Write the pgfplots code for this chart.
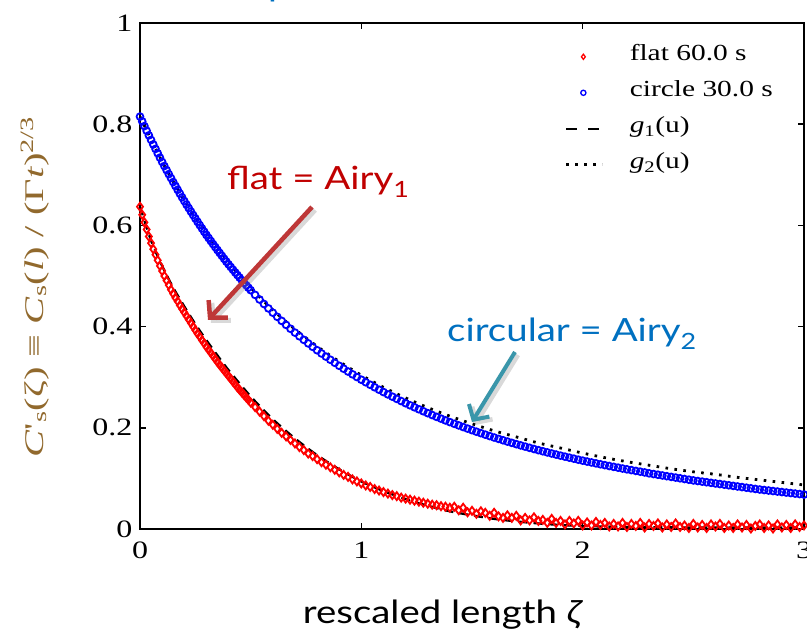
\documentclass[border=0pt]{standalone}
\usepackage{pgfplots}
\pgfplotsset{compat=1.18}
\usepackage{fontspec}
\setmainfont{Liberation Serif}
\newfontfamily\plotfont[FakeStretch=1.28]{Liberation Serif}
\newfontfamily\labfont[FakeStretch=1.5]{Liberation Serif}
\newfontfamily\annfont[FakeStretch=1.2]{Lato}
\usetikzlibrary{arrows.meta}
\definecolor{ylab}{RGB}{145,105,45}
\definecolor{annred}{RGB}{192,0,0}
\definecolor{arrred}{RGB}{190,55,55}
\definecolor{annblue}{RGB}{0,112,192}
\definecolor{arrteal}{RGB}{58,150,170}
\pgfplotsset{
  markleg/.style={legend image code/.code={\path (0pt,0pt) (34pt,0pt); \draw[##1, mark size=2.6pt, mark options={line width=1.3pt}] plot coordinates {(17pt,0pt)};}},
  dashleg/.style={legend image code/.code={\draw[##1, dash pattern=on 11pt off 11pt] (0pt,0pt) -- (34pt,0pt);}},
  dotleg/.style={legend image code/.code={\draw[##1] (0pt,0pt) -- (36pt,0pt);}},
}
\begin{document}
\begin{tikzpicture}[x=1pt,y=1pt]
\useasboundingbox (0,0) rectangle (807,637);
\begin{axis}[
  scale only axis, width=664pt, height=506pt,
  at={(140pt,108pt)}, anchor=south west,
  xmin=0, xmax=3, ymin=0, ymax=1,
  xtick={0,1,2,3}, ytick={0,0.2,0.4,0.6,0.8,1},
  tick align=inside, major tick length=6pt,
  axis line style={line width=2pt},
  tick style={line width=1.5pt, black},
  clip=false,
  /pgf/number format/assume math mode=true,
  tick label style={font=\plotfont\fontsize{25}{25}\selectfont},
  xticklabel style={yshift=-9pt},
  yticklabel style={xshift=-4pt},
  legend style={draw=none, fill=none, at={(0.640,0.949)}, anchor=north west,
    inner sep=0pt, outer sep=0pt, row sep=20pt, column sep=26pt,
    font=\plotfont\fontsize{23}{23}\selectfont,
    nodes={inner sep=0pt, text height=12pt, text depth=4pt}},
  legend cell align=left,
]
\addplot[only marks, mark=diamond, mark size=4pt, red, mark options={line width=1.8pt}, markleg]
coordinates {
(0.00,0.637)(0.01,0.621)(0.02,0.606)(0.03,0.592)(0.04,0.578)(0.05,0.565)(0.06,0.553)(0.07,0.542)(0.08,0.531)(0.09,0.520)
(0.10,0.510)(0.11,0.500)(0.12,0.491)(0.13,0.482)(0.14,0.473)(0.15,0.465)(0.16,0.457)(0.17,0.450)(0.18,0.442)(0.19,0.435)
(0.20,0.428)(0.21,0.421)(0.22,0.414)(0.23,0.407)(0.24,0.400)(0.25,0.393)(0.26,0.386)(0.27,0.380)(0.28,0.373)(0.29,0.367)
(0.30,0.360)(0.31,0.354)(0.32,0.348)(0.33,0.342)(0.34,0.336)(0.35,0.330)(0.36,0.324)(0.37,0.319)(0.38,0.313)(0.39,0.308)
(0.40,0.302)(0.41,0.297)(0.42,0.291)(0.43,0.286)(0.44,0.280)(0.45,0.275)(0.46,0.270)(0.47,0.265)(0.48,0.260)(0.49,0.255)
(0.50,0.250)(0.52,0.241)(0.54,0.232)(0.56,0.223)(0.58,0.214)(0.60,0.206)(0.62,0.198)(0.64,0.190)(0.66,0.183)(0.68,0.176)
(0.70,0.169)(0.72,0.162)(0.74,0.156)(0.76,0.149)(0.78,0.144)(0.80,0.138)(0.82,0.132)(0.84,0.127)(0.86,0.122)(0.88,0.117)
(0.90,0.112)(0.92,0.107)(0.94,0.103)(0.96,0.098)(0.98,0.094)(1.00,0.090)(1.02,0.086)(1.04,0.083)(1.06,0.079)(1.08,0.076)
(1.10,0.073)(1.12,0.070)(1.14,0.067)(1.16,0.065)(1.18,0.062)(1.20,0.060)(1.22,0.058)(1.24,0.056)(1.26,0.054)(1.28,0.052)
(1.30,0.050)(1.32,0.048)(1.34,0.047)(1.36,0.045)(1.38,0.044)(1.40,0.042)(1.42,0.044)(1.44,0.037)(1.46,0.042)(1.48,0.033)
(1.50,0.036)(1.52,0.030)(1.54,0.035)(1.56,0.032)(1.58,0.026)(1.60,0.032)(1.62,0.025)(1.64,0.022)(1.66,0.027)(1.68,0.022)
(1.70,0.026)(1.72,0.017)(1.74,0.022)(1.76,0.017)(1.78,0.023)(1.80,0.016)(1.82,0.018)(1.84,0.012)(1.86,0.020)(1.88,0.012)
(1.90,0.016)(1.92,0.009)(1.94,0.016)(1.96,0.011)(1.98,0.016)(2.00,0.007)(2.02,0.013)(2.04,0.007)(2.06,0.014)(2.08,0.008)
(2.10,0.012)(2.12,0.005)(2.14,0.010)(2.16,0.005)(2.18,0.012)(2.20,0.004)(2.22,0.010)(2.24,0.006)(2.26,0.012)(2.28,0.003)
(2.30,0.010)(2.32,0.006)(2.34,0.011)(2.36,0.003)(2.38,0.009)(2.40,0.004)(2.42,0.011)(2.44,0.004)(2.46,0.007)(2.48,0.002)
(2.50,0.010)(2.52,0.003)(2.54,0.008)(2.56,0.002)(2.58,0.009)(2.60,0.005)(2.62,0.010)(2.64,0.002)(2.66,0.007)(2.68,0.002)
(2.70,0.009)(2.72,0.003)(2.74,0.008)(2.76,0.001)(2.78,0.006)(2.80,0.009)(2.82,0.002)(2.84,0.007)(2.86,0.001)(2.88,0.009)
(2.90,0.003)(2.92,0.008)(2.94,0.002)(2.96,0.009)(2.98,0.004)(3.00,0.007)
};
\addlegendentry{flat 60.0 s}
\addplot[only marks, mark=o, mark size=3.4pt, blue, mark options={line width=1.8pt}, markleg]
coordinates {
(0.00,0.8150)(0.01,0.8056)(0.02,0.7962)(0.03,0.7870)(0.04,0.7779)(0.05,0.7689)(0.06,0.7600)(0.07,0.7512)(0.08,0.7425)(0.09,0.7339)
(0.10,0.7254)(0.11,0.7173)(0.12,0.7093)(0.13,0.7013)(0.14,0.6935)(0.15,0.6857)(0.16,0.6780)(0.17,0.6704)(0.18,0.6629)(0.19,0.6555)
(0.20,0.6482)(0.21,0.6412)(0.22,0.6342)(0.23,0.6273)(0.24,0.6205)(0.25,0.6138)(0.26,0.6071)(0.27,0.6005)(0.28,0.5940)(0.29,0.5876)
(0.30,0.5812)(0.31,0.5751)(0.32,0.5691)(0.33,0.5631)(0.34,0.5572)(0.35,0.5513)(0.36,0.5455)(0.37,0.5398)(0.38,0.5341)(0.39,0.5285)
(0.40,0.5230)(0.41,0.5177)(0.42,0.5124)(0.43,0.5071)(0.44,0.5019)(0.45,0.4968)(0.46,0.4917)(0.47,0.4867)(0.48,0.4818)(0.49,0.4769)
(0.50,0.4720)(0.52,0.4627)(0.54,0.4536)(0.56,0.4447)(0.58,0.4360)(0.60,0.4275)(0.62,0.4193)(0.64,0.4113)(0.66,0.4034)(0.68,0.3957)
(0.70,0.3881)(0.72,0.3809)(0.74,0.3738)(0.76,0.3668)(0.78,0.3600)(0.80,0.3533)(0.82,0.3469)(0.84,0.3407)(0.86,0.3345)(0.88,0.3285)
(0.90,0.3225)(0.92,0.3168)(0.94,0.3112)(0.96,0.3057)(0.98,0.3003)(1.00,0.2950)(1.02,0.2900)(1.04,0.2850)(1.06,0.2801)(1.08,0.2753)
(1.10,0.2706)(1.12,0.2660)(1.14,0.2616)(1.16,0.2572)(1.18,0.2528)(1.20,0.2486)(1.22,0.2445)(1.24,0.2405)(1.26,0.2366)(1.28,0.2327)
(1.30,0.2289)(1.32,0.2252)(1.34,0.2216)(1.36,0.2181)(1.38,0.2146)(1.40,0.2112)(1.42,0.2079)(1.44,0.2047)(1.46,0.2015)(1.48,0.1984)
(1.50,0.1953)(1.52,0.1923)(1.54,0.1894)(1.56,0.1865)(1.58,0.1836)(1.60,0.1808)(1.62,0.1781)(1.64,0.1754)(1.66,0.1728)(1.68,0.1702)
(1.70,0.1677)(1.72,0.1652)(1.74,0.1628)(1.76,0.1604)(1.78,0.1581)(1.80,0.1558)(1.82,0.1536)(1.84,0.1514)(1.86,0.1492)(1.88,0.1471)
(1.90,0.1450)(1.92,0.1430)(1.94,0.1410)(1.96,0.1390)(1.98,0.1370)(2.00,0.1351)(2.02,0.1333)(2.04,0.1315)(2.06,0.1297)(2.08,0.1279)
(2.10,0.1262)(2.12,0.1245)(2.14,0.1228)(2.16,0.1212)(2.18,0.1195)(2.20,0.1179)(2.22,0.1164)(2.24,0.1148)(2.26,0.1133)(2.28,0.1118)
(2.30,0.1100)(2.32,0.1086)(2.34,0.1072)(2.36,0.1058)(2.38,0.1044)(2.40,0.1030)(2.42,0.1016)(2.44,0.1002)(2.46,0.0988)(2.48,0.0974)
(2.50,0.0960)(2.52,0.0948)(2.54,0.0936)(2.56,0.0924)(2.58,0.0912)(2.60,0.0900)(2.62,0.0888)(2.64,0.0876)(2.66,0.0864)(2.68,0.0852)
(2.70,0.0840)(2.72,0.0828)(2.74,0.0816)(2.76,0.0804)(2.78,0.0792)(2.80,0.0780)(2.82,0.0770)(2.84,0.0760)(2.86,0.0750)(2.88,0.0740)
(2.90,0.0730)(2.92,0.0720)(2.94,0.0710)(2.96,0.0700)(2.98,0.0690)(3.00,0.0680)
};
\addlegendentry{circle 30.0 s}
\addplot[black, line width=2.3pt, dash pattern=on 9pt off 6pt, smooth, dashleg]
coordinates {
(0.00,0.637)(0.05,0.570)(0.10,0.520)(0.15,0.477)(0.20,0.440)(0.25,0.405)(0.30,0.373)(0.35,0.343)(0.40,0.314)
(0.50,0.262)(0.60,0.217)(0.70,0.179)(0.80,0.146)(0.90,0.118)(1.00,0.094)(1.10,0.075)(1.20,0.059)(1.30,0.046)
(1.40,0.035)(1.50,0.027)(1.60,0.020)(1.70,0.015)(1.80,0.011)(1.90,0.008)(2.00,0.006)(2.20,0.004)(2.50,0.003)(3.00,0.003)
};
\addlegendentry{\textit{g}\textsubscript{1}(u)}
\addplot[black, line width=2.8pt, dash pattern=on 2.6pt off 6.4pt, smooth, dotleg]
coordinates {
(0.0,0.815)(0.1,0.726)(0.2,0.650)(0.3,0.584)(0.4,0.527)(0.5,0.477)(0.6,0.433)(0.7,0.395)(0.8,0.361)(0.9,0.331)
(1.0,0.304)(1.1,0.280)(1.2,0.259)(1.3,0.240)(1.4,0.223)(1.5,0.208)(1.6,0.194)(1.7,0.182)(1.8,0.170)(1.9,0.160)
(2.0,0.150)(2.1,0.141)(2.2,0.133)(2.3,0.126)(2.4,0.119)(2.5,0.113)(2.6,0.108)(2.7,0.102)(2.8,0.097)(2.9,0.092)(3.0,0.087)
};
\addlegendentry{\textit{g}\textsubscript{2}(u)}
\end{axis}
% y label
\node[rotate=90, anchor=base, inner sep=0pt, text=ylab, font=\labfont\fontsize{27}{27}\selectfont] at (43,350)
  {\textit{C}'\textsubscript{s}(ζ) ≡ \textit{C}\textsubscript{s}(\textit{l}) / (Γ\textit{t})\textsuperscript{2/3}};
% x label
\node[anchor=base, inner sep=0pt, font=\annfont\fontsize{32}{32}\selectfont] at (443,13)
  {rescaled length \textit{ζ}};
% annotations
\node[anchor=base west, inner sep=0pt, text=annred, font=\annfont\fontsize{32}{32}\selectfont] at (227,447)
  {flat = Airy\textsubscript{1}};
\node[anchor=base west, inner sep=0pt, text=annblue, font=\annfont\fontsize{32}{32}\selectfont] at (447,295)
  {circular = Airy\textsubscript{2}};
\node[anchor=base west, inner sep=0pt, text=annblue, font=\annfont\fontsize{32}{32}\selectfont] at (268,640) {p};
% arrows with light shadow
\draw[gray, opacity=0.3, line width=5pt, -{Straight Barb[length=12pt,width=26pt]}] (315,427) -- (211,314);
\draw[arrred, line width=4.5pt, -{Straight Barb[length=12pt,width=26pt]}] (312,430) -- (208,317);
\draw[gray, opacity=0.3, line width=4.5pt, -{Straight Barb[length=11pt,width=24pt]}] (518,282) -- (475,212);
\draw[arrteal, line width=4pt, -{Straight Barb[length=11pt,width=24pt]}] (515,285) -- (472,215);
\end{tikzpicture}
\end{document}
